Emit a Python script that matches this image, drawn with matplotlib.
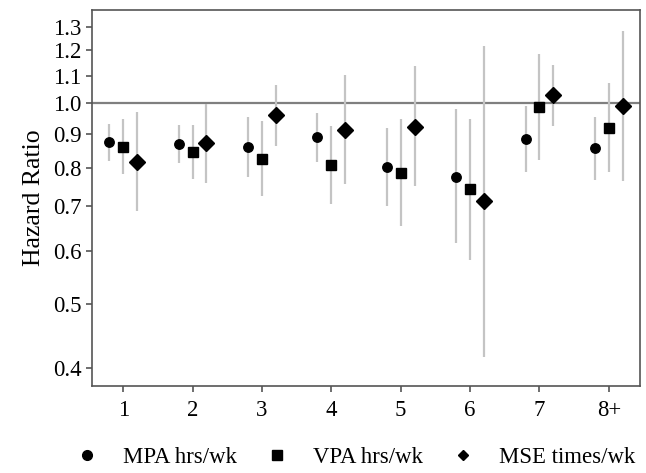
import matplotlib
matplotlib.use("Agg")
import matplotlib.pyplot as plt
from matplotlib.ticker import FixedLocator, FixedFormatter, NullLocator
from matplotlib.lines import Line2D
import numpy as np

categories = ["1", "2", "3", "4", "5", "6", "7", "8+"]

mpa_hr = [0.874, 0.868, 0.859, 0.889, 0.801, 0.774, 0.883, 0.856]
mpa_lo = [0.818, 0.813, 0.774, 0.815, 0.700, 0.616, 0.788, 0.766]
mpa_hi = [0.930, 0.927, 0.953, 0.966, 0.917, 0.979, 0.990, 0.953]

vpa_hr = [0.859, 0.844, 0.824, 0.807, 0.785, 0.743, 0.986, 0.917]
vpa_lo = [0.782, 0.769, 0.725, 0.705, 0.653, 0.581, 0.821, 0.788]
vpa_hi = [0.946, 0.927, 0.940, 0.924, 0.946, 0.946, 1.185, 1.071]

mse_hr = [0.815, 0.871, 0.959, 0.911, 0.920, 0.712, 1.028, 0.990]
mse_lo = [0.688, 0.758, 0.862, 0.756, 0.750, 0.415, 0.924, 0.764]
mse_hi = [0.969, 0.997, 1.064, 1.102, 1.137, 1.218, 1.140, 1.283]

series_labels = ["MPA hrs/wk", "VPA hrs/wk", "MSE times/wk"]
y_ticks = [0.4, 0.5, 0.6, 0.7, 0.8, 0.9, 1.0, 1.1, 1.2, 1.3]
y_tick_labels = ["0.4", "0.5", "0.6", "0.7", "0.8", "0.9", "1.0", "1.1", "1.2", "1.3"]

plt.rcParams['font.family'] = ['Liberation Serif', 'DejaVu Serif']

fig = plt.figure(figsize=(6.46, 4.73), dpi=100)
ax = fig.add_axes([0.1424, 0.184, 0.9907 - 0.1424, 0.9789 - 0.184])

x = np.arange(1, len(categories) + 1)
offsets = [-0.2, 0.0, 0.2]
markers = ["o", "s", "D"]
msizes = [6.8, 6.8, 7.8]
data = [(mpa_hr, mpa_lo, mpa_hi), (vpa_hr, vpa_lo, vpa_hi), (mse_hr, mse_lo, mse_hi)]

ax.axhline(1.0, color="#7f7f7f", lw=1.6, zorder=1)

for (hr, lo, hi), off, m, ms, lab in zip(data, offsets, markers, msizes, series_labels):
    xx = x + off
    ax.vlines(xx, lo, hi, color="#c4c4c4", lw=1.6, zorder=2)
    ax.plot(xx, hr, linestyle="none", marker=m, ms=ms, color="black", zorder=3, label=lab)

ax.set_yscale("log")
ax.set_ylim(0.376, 1.38)
ax.set_xlim(0.55, 8.45)
ax.yaxis.set_major_locator(FixedLocator(y_ticks))
ax.yaxis.set_major_formatter(FixedFormatter(y_tick_labels))
ax.yaxis.set_minor_locator(NullLocator())
ax.set_xticks(x)
ax.set_xticklabels(categories)

for s in ax.spines.values():
    s.set_color("#555555")
    s.set_linewidth(1.2)
ax.tick_params(axis="both", which="major", direction="out", length=4, width=1.2,
               color="#555555", labelsize=16.4, labelcolor="black")
ax.tick_params(axis="x", pad=6.3)
ax.tick_params(axis="y", pad=3.5)
ax.set_ylabel("Hazard Ratio", fontsize=18.5, labelpad=6)

leg_handles = [Line2D([], [], linestyle="none", marker="o", ms=7.0, color="black"),
               Line2D([], [], linestyle="none", marker="s", ms=6.5, color="black"),
               Line2D([], [], linestyle="none", marker="D", ms=5.5, color="black")]
fig.legend(leg_handles, series_labels, loc="center", bbox_to_anchor=(0.550, 0.032),
           ncol=3, frameon=False, fontsize=16.4, handlelength=1.0, handletextpad=1.08,
           columnspacing=1.25, borderpad=0.0, borderaxespad=0.0)

fig.savefig("out.png", dpi=100)
